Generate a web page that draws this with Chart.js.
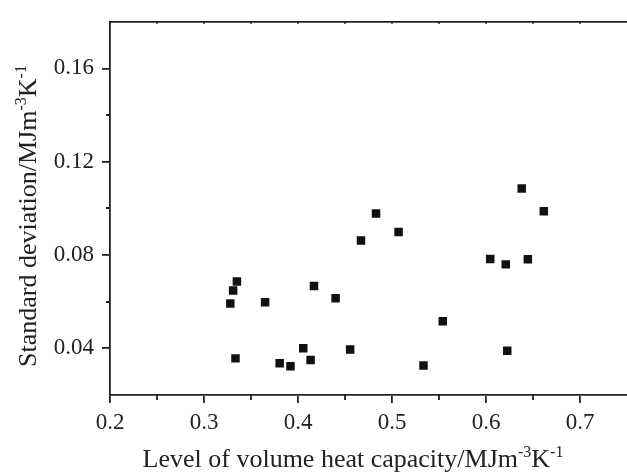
<!DOCTYPE html>
<html>
<head>
<meta charset="utf-8">
<script src="https://cdn.jsdelivr.net/npm/chart.js@4.4.1/dist/chart.umd.min.js"></script>
<style>
  html, body { margin: 0; padding: 0; background: #fff; }
  #wrap { width: 627px; height: 474px; }
</style>
</head>
<body>
<div id="wrap"><canvas id="scatter-chart" width="627" height="474"></canvas></div>
<script>
// values
var heatCapacity = [0.328, 0.331, 0.335, 0.3335, 0.365, 0.3805, 0.392, 0.4056, 0.4134, 0.417,
                    0.440, 0.4555, 0.467, 0.483, 0.507, 0.5335, 0.554, 0.6045, 0.621, 0.6226,
                    0.638, 0.6445, 0.6615];
var stdDeviation = [0.0592, 0.0648, 0.0687, 0.0357, 0.0598, 0.0336, 0.0323, 0.0400, 0.0350, 0.0667,
                    0.0615, 0.0395, 0.0862, 0.0978, 0.0899, 0.0326, 0.0516, 0.0783, 0.0760, 0.0390,
                    0.1085, 0.0782, 0.0988];

var xMajorTicks = [0.2, 0.3, 0.4, 0.5, 0.6, 0.7];
var xMinorTicks = [0.25, 0.35, 0.45, 0.55, 0.65];
var yMajorTicks = [0.04, 0.08, 0.12, 0.16];
var yMinorTicks = [0.06, 0.10, 0.14];

// [text, superscript?]
var xTitle = [["Level of volume heat capacity/MJm", false], ["-3", true], ["K", false], ["-1", true]];
var yTitle = [["Standard deviation/MJm", false], ["-3", true], ["K", false], ["-1", true]];

var axisColor = "#222";
var serif = '"Liberation Serif", "Times New Roman", serif';

function drawTitle(ctx, parts, cx, y){
  var total = 0;
  parts.forEach(function(p){
    ctx.font = (p[1] ? "16px " : "26px ") + serif;
    total += ctx.measureText(p[0]).width;
  });
  var x = cx - total / 2;
  parts.forEach(function(p){
    ctx.font = (p[1] ? "16px " : "26px ") + serif;
    ctx.fillText(p[0], x, p[1] ? y - 10 : y);
    x += ctx.measureText(p[0]).width;
  });
}

var axisDecor = {
  id: "axisDecor",
  afterDraw: function(chart){
    var ctx = chart.ctx;
    var xs = chart.scales.x, ys = chart.scales.y;
    var area = chart.chartArea;
    ctx.save();
    ctx.strokeStyle = axisColor;
    ctx.lineWidth = 1.8;
    ctx.beginPath();
    xMinorTicks.forEach(function(v){
      var px = Math.round(xs.getPixelForValue(v));
      ctx.moveTo(px, area.bottom);
      ctx.lineTo(px, area.bottom + 5);
    });
    yMinorTicks.forEach(function(v){
      var py = Math.round(ys.getPixelForValue(v));
      ctx.moveTo(area.left, py);
      ctx.lineTo(area.left - 4, py);
    });
    // little inward marks on the top line
    xMajorTicks.concat(xMinorTicks).forEach(function(v){
      var px = Math.round(xs.getPixelForValue(v));
      ctx.moveTo(px, area.top);
      ctx.lineTo(px, area.top + 2);
    });
    ctx.stroke();

    ctx.fillStyle = axisColor;
    ctx.textBaseline = "alphabetic";
    ctx.textAlign = "left";
    drawTitle(ctx, xTitle, area.left + 243, 467);
    ctx.translate(36, 216);
    ctx.rotate(-Math.PI / 2);
    drawTitle(ctx, yTitle, 0, 0);
    ctx.restore();
  }
};

var points = heatCapacity.map(function(x, i){ return {x: x, y: stdDeviation[i]}; });

new Chart(document.getElementById("scatter-chart"), {
  type: "scatter",
  data: {
    datasets: [{
      data: points,
      pointStyle: "rect",
      pointRadius: 6,
      pointHoverRadius: 6,
      backgroundColor: "#111",
      borderWidth: 0
    }]
  },
  options: {
    responsive: false,
    animation: false,
    devicePixelRatio: 1,
    layout: { padding: 0, autoPadding: false },
    plugins: {
      legend: { display: false },
      tooltip: { enabled: false }
    },
    scales: {
      x: {
        type: "linear",
        position: "bottom",
        min: 0.2,
        max: 0.75,
        afterBuildTicks: function(scale){
          scale.ticks = xMajorTicks.map(function(v){ return {value: v}; });
        },
        afterFit: function(scale){ scale.height = 79; },
        ticks: {
          color: axisColor,
          padding: 6,
          maxRotation: 0,
          font: { family: serif, size: 23 },
          callback: function(v){ return String(Math.round(v * 10) / 10); }
        },
        grid: { drawOnChartArea: false, drawTicks: true, tickLength: 8, color: axisColor, lineWidth: 1.8 },
        border: { display: true, color: axisColor, width: 1.8 }
      },
      x2: {
        type: "linear",
        position: "top",
        min: 0.2,
        max: 0.75,
        afterFit: function(scale){ scale.height = 15; },
        ticks: { display: false },
        grid: { display: false },
        border: { display: true, color: axisColor, width: 1.8 }
      },
      y: {
        type: "linear",
        position: "left",
        min: 0.02,
        max: 0.18,
        afterBuildTicks: function(scale){
          scale.ticks = yMajorTicks.map(function(v){ return {value: v}; });
        },
        afterFit: function(scale){ scale.width = 110; },
        ticks: {
          color: axisColor,
          padding: 8,
          font: { family: serif, size: 23 },
          callback: function(v){ return v.toFixed(2); }
        },
        grid: { drawOnChartArea: false, drawTicks: true, tickLength: 8, color: axisColor, lineWidth: 1.8 },
        border: { display: true, color: axisColor, width: 1.8 }
      }
    }
  },
  plugins: [axisDecor]
});
</script>
</body>
</html>
